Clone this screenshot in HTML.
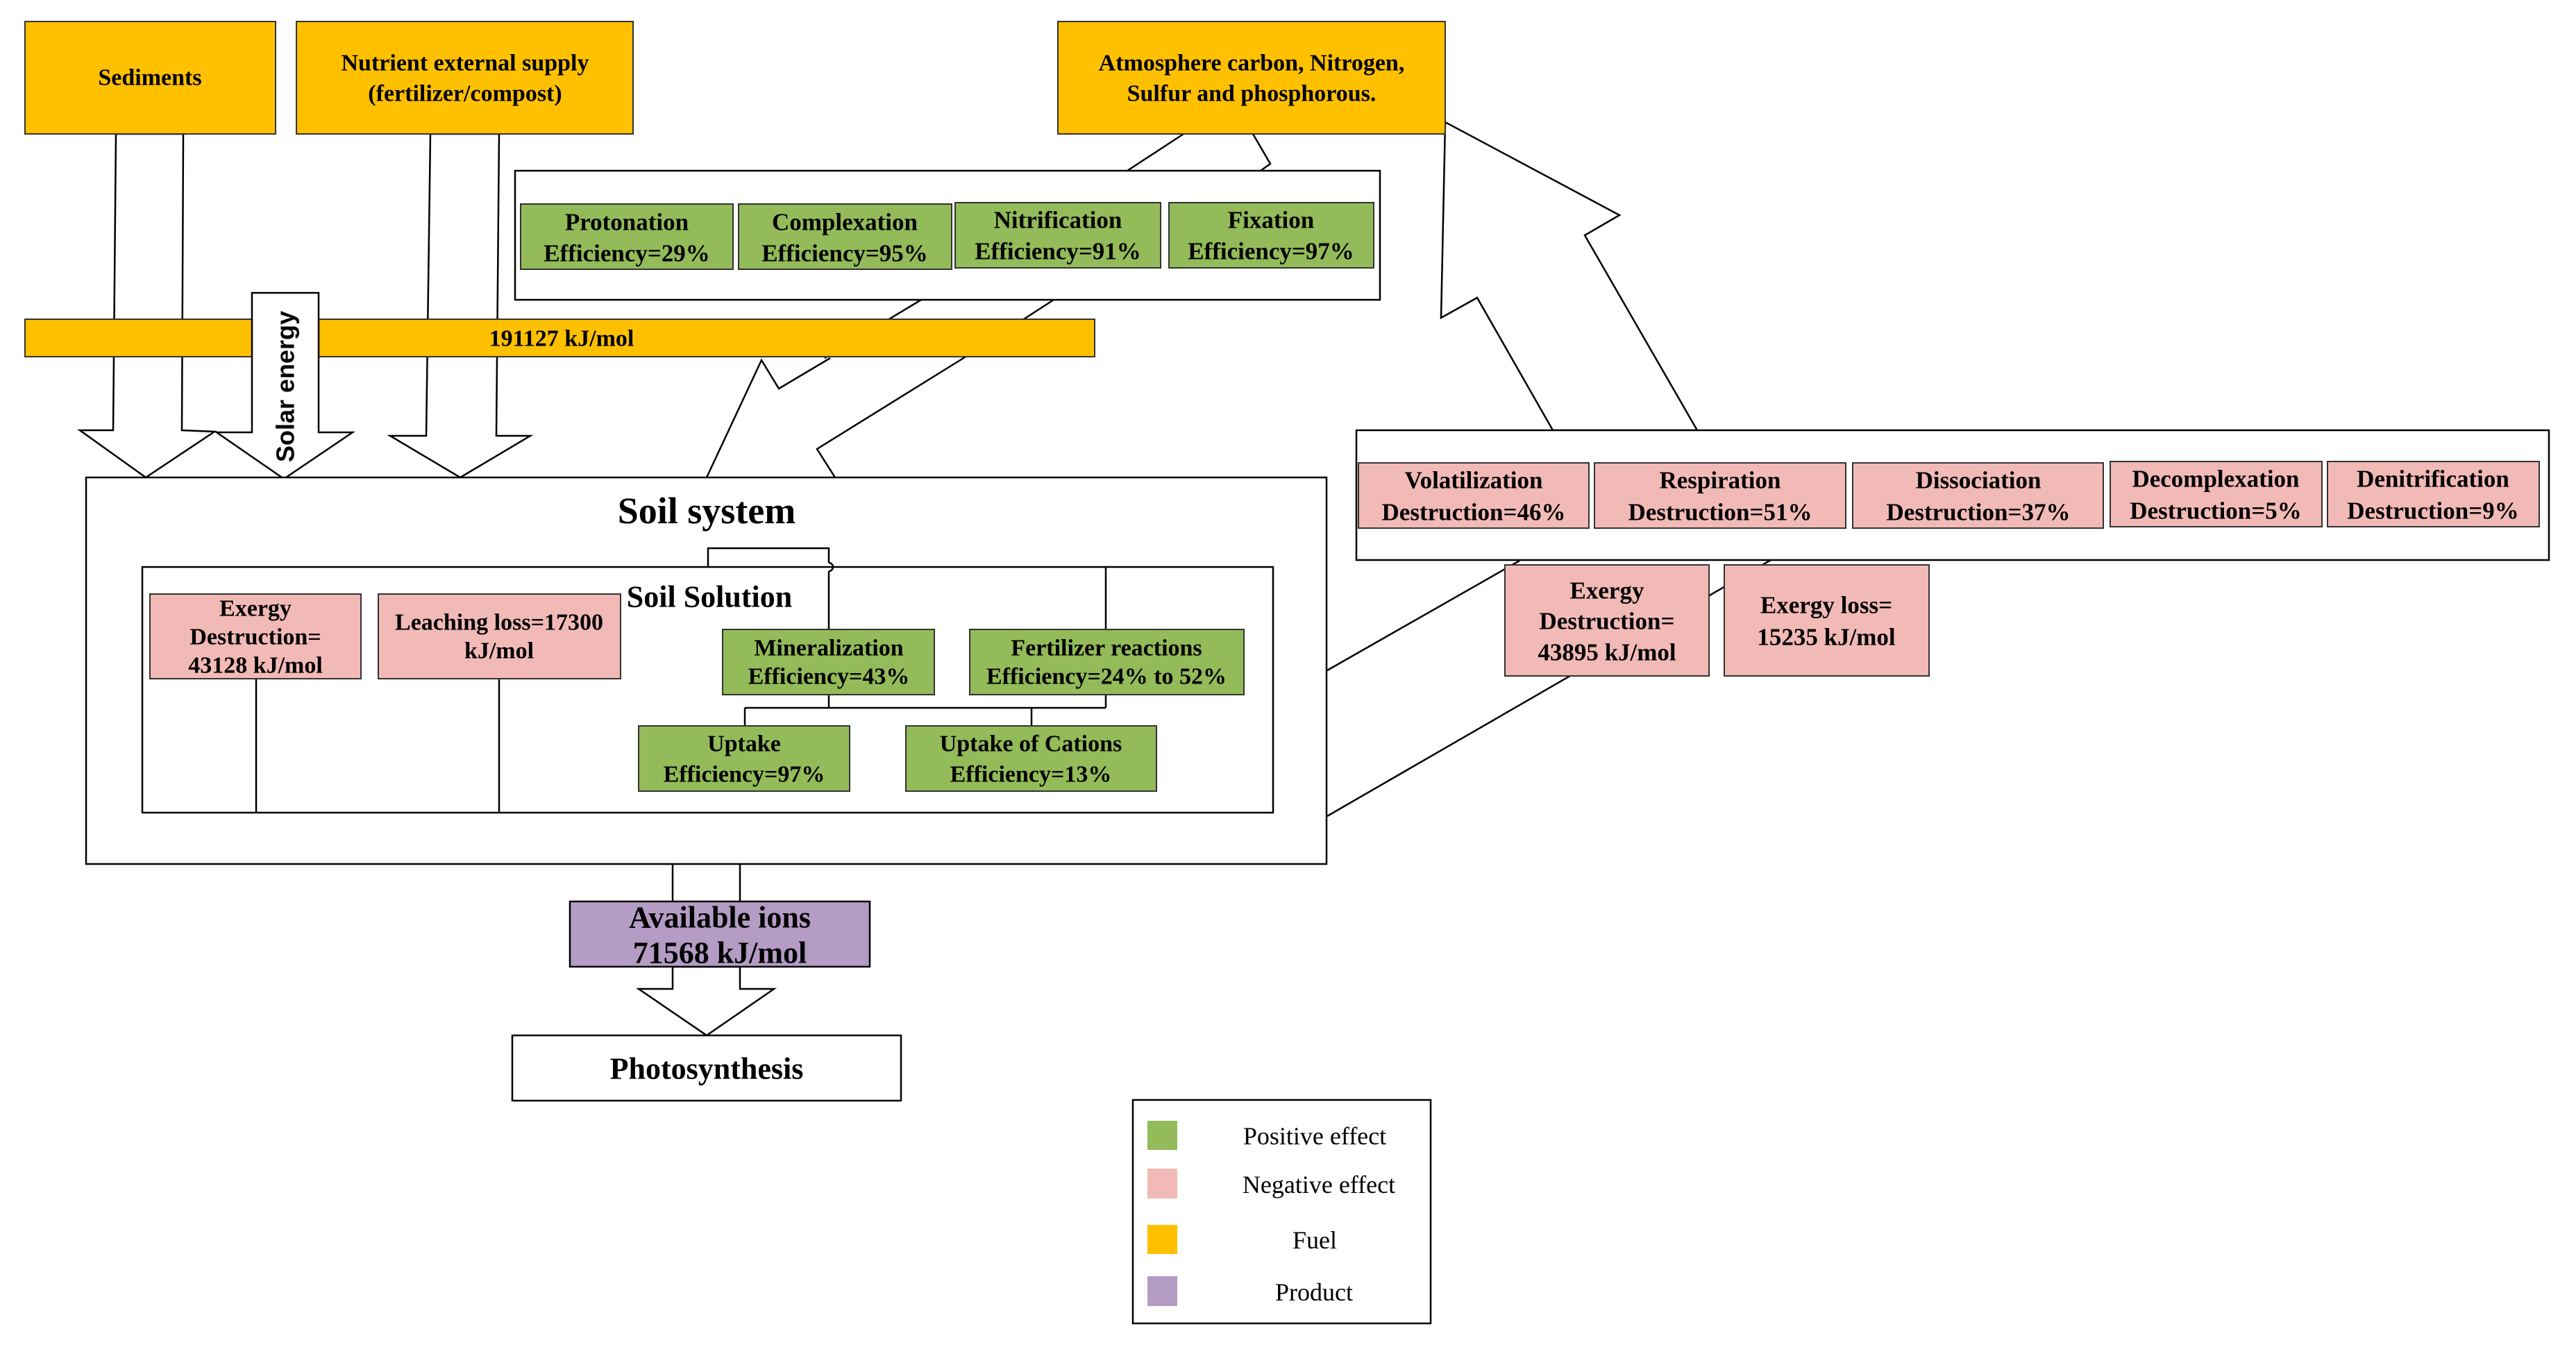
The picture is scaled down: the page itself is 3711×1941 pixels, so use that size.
<!DOCTYPE html>
<html><head><meta charset="utf-8"><style>
html,body{margin:0;padding:0;background:#fff;}
svg{display:block;}
text{font-family:"Liberation Serif",serif;font-weight:bold;fill:#000;text-anchor:middle;dominant-baseline:central;}
</style></head><body>
<svg width="3711" height="1941" viewBox="0 0 3711 1941" xmlns="http://www.w3.org/2000/svg">
<g stroke="#000" stroke-width="2.5" fill="none">
<polygon points="2237,620 2128,429 2076,458 2082,176 2333,310 2283,339 2445,620" fill="#fff"/>
<line x1="1912" y1="966" x2="2189" y2="808"/>
<line x1="1912" y1="1176" x2="2551" y2="807"/>
<polyline points="1705,193 1624,246"/>
<polyline points="1805,193 1830,236 1816,246"/>
<polyline points="1327,432 1188,516"/>
<polyline points="1196,516 1122,560 1097,519 1018,688"/>
<polyline points="1518,432 1388,516"/>
<polyline points="1388,516 1177,647 1203,688"/>
<polygon points="167,193 264,193 262,620 309,622 210,688 115,620 163,620" fill="#fff"/>
<polygon points="620,193 719,193 715,628 764,628 663,688 562,628 614,628" fill="#fff"/>
</g>
<rect x="36" y="460" width="1541" height="54" fill="#FFC000" stroke="#333" stroke-width="2"/>
<text x="809" y="488" font-size="34">191127 kJ/mol</text>
<polygon points="363,422 459,422 459,623 508,623 409,690 312,623 363,623" fill="#fff" stroke="#000" stroke-width="2.5"/>
<text x="0" y="0" font-size="36" transform="translate(411,557) rotate(-90)" style="font-family:'Liberation Sans',sans-serif">Solar energy</text>

<rect x="36" y="31" width="361" height="162" fill="#FFC000" stroke="#333" stroke-width="2"/>
<text x="216" y="112" font-size="34">Sediments</text>
<rect x="427" y="31" width="485" height="162" fill="#FFC000" stroke="#333" stroke-width="2"/>
<text x="670" y="91" font-size="34">Nutrient external supply</text>
<text x="670" y="135" font-size="34">(fertilizer/compost)</text>
<rect x="1524" y="31" width="558" height="162" fill="#FFC000" stroke="#333" stroke-width="2"/>
<text x="1803" y="91" font-size="34">Atmosphere carbon, Nitrogen,</text>
<text x="1803" y="135" font-size="34">Sulfur and phosphorous.</text>

<rect x="742" y="246" width="1246" height="186" fill="#fff" stroke="#000" stroke-width="2.5"/>
<g fill="#93BB59" stroke="#333" stroke-width="2">
<rect x="750" y="294" width="306" height="94"/>
<rect x="1064" y="294" width="307" height="94"/>
<rect x="1376" y="292" width="296" height="94"/>
<rect x="1684" y="292" width="295" height="94"/>
</g>
<g font-size="35">
<text x="903" y="320">Protonation</text><text x="903" y="365">Efficiency=29%</text>
<text x="1217" y="320">Complexation</text><text x="1217" y="365">Efficiency=95%</text>
<text x="1524" y="317">Nitrification</text><text x="1524" y="362">Efficiency=91%</text>
<text x="1831" y="317">Fixation</text><text x="1831" y="362">Efficiency=97%</text>
</g>

<rect x="1954" y="620" width="1718" height="187" fill="#fff" stroke="#000" stroke-width="2.5"/>
<g fill="#F2BAB6" stroke="#333" stroke-width="2">
<rect x="1957" y="667" width="332" height="94"/>
<rect x="2297" y="667" width="362" height="94"/>
<rect x="2669" y="667" width="361" height="94"/>
<rect x="3040" y="665" width="305" height="94"/>
<rect x="3353" y="665" width="305" height="94"/>
<rect x="2168" y="814" width="294" height="160"/>
<rect x="2484" y="814" width="295" height="160"/>
</g>
<g font-size="35">
<text x="2123" y="692">Volatilization</text><text x="2123" y="738">Destruction=46%</text>
<text x="2478" y="692">Respiration</text><text x="2478" y="738">Destruction=51%</text>
<text x="2850" y="692">Dissociation</text><text x="2850" y="738">Destruction=37%</text>
<text x="3192" y="690">Decomplexation</text><text x="3192" y="736">Destruction=5%</text>
<text x="3505" y="690">Denitrification</text><text x="3505" y="736">Destruction=9%</text>
<text x="2315" y="851">Exergy</text><text x="2315" y="895">Destruction=</text><text x="2315" y="940">43895 kJ/mol</text>
<text x="2631" y="872">Exergy loss=</text><text x="2631" y="918">15235 kJ/mol</text>
</g>

<rect x="124" y="688" width="1787" height="557" fill="#fff" stroke="#000" stroke-width="2.5"/>
<text x="1018" y="736" font-size="54">Soil system</text>
<rect x="205" y="817" width="1629" height="354" fill="none" stroke="#000" stroke-width="2.5"/>
<text x="1022" y="860" font-size="44">Soil Solution</text>
<g stroke="#000" stroke-width="2.5" fill="none">
<polyline points="1020,817 1020,790 1194,790 1194,811"/>
<path d="M1194,811 a6,6 0 0 1 0,12"/>
<line x1="1194" y1="823" x2="1194" y2="907"/>
<line x1="1593" y1="817" x2="1593" y2="907"/>
<line x1="1194" y1="1001" x2="1194" y2="1020"/>
<line x1="1073" y1="1020" x2="1593" y2="1020"/>
<line x1="1593" y1="1001" x2="1593" y2="1020"/>
<line x1="1073" y1="1020" x2="1073" y2="1046"/>
<line x1="1486" y1="1020" x2="1486" y2="1046"/>
<line x1="369" y1="978" x2="369" y2="1171"/>
<line x1="719" y1="978" x2="719" y2="1171"/>
</g>
<g fill="#F2BAB6" stroke="#333" stroke-width="2">
<rect x="216" y="856" width="304" height="122"/>
<rect x="545" y="856" width="349" height="122"/>
</g>
<g fill="#93BB59" stroke="#333" stroke-width="2">
<rect x="1041" y="907" width="305" height="94"/>
<rect x="1397" y="907" width="395" height="94"/>
<rect x="920" y="1046" width="304" height="94"/>
<rect x="1305" y="1046" width="361" height="94"/>
</g>
<g font-size="34">
<text x="368" y="877">Exergy</text><text x="368" y="918">Destruction=</text><text x="368" y="959">43128 kJ/mol</text>
<text x="719" y="897">Leaching loss=17300</text><text x="719" y="938">kJ/mol</text>
<text x="1194" y="934">Mineralization</text><text x="1194" y="975">Efficiency=43%</text>
<text x="1594" y="934">Fertilizer reactions</text><text x="1594" y="975">Efficiency=24% to 52%</text>
<text x="1072" y="1072">Uptake</text><text x="1072" y="1116">Efficiency=97%</text>
<text x="1485" y="1072">Uptake of Cations</text><text x="1485" y="1116">Efficiency=13%</text>
</g>

<g stroke="#000" stroke-width="2.5" fill="none">
<line x1="969" y1="1246" x2="969" y2="1299"/>
<line x1="1066" y1="1246" x2="1066" y2="1299"/>
<polygon points="969,1393 1066,1393 1066,1425 1115,1425 1018,1492 920,1425 969,1425" fill="#fff"/>
</g>
<rect x="821" y="1299" width="432" height="94" fill="#B49CC4" stroke="#000" stroke-width="2.5"/>
<text x="1037" y="1322" font-size="44">Available ions</text>
<text x="1037" y="1373" font-size="44">71568 kJ/mol</text>
<rect x="738" y="1492" width="560" height="94" fill="#fff" stroke="#000" stroke-width="2.5"/>
<text x="1018" y="1540" font-size="44">Photosynthesis</text>

<rect x="1632" y="1585" width="429" height="322" fill="#fff" stroke="#000" stroke-width="2.5"/>
<rect x="1653" y="1615" width="43" height="42" fill="#93BB59"/>
<rect x="1653" y="1684" width="43" height="43" fill="#F2BAB6"/>
<rect x="1653" y="1765" width="43" height="42" fill="#FFC000"/>
<rect x="1653" y="1839" width="43" height="43" fill="#B49CC4"/>
<g font-size="36">
<text x="1894" y="1637" style="font-weight:normal">Positive effect</text>
<text x="1900" y="1707" style="font-weight:normal">Negative effect</text>
<text x="1894" y="1787" style="font-weight:normal">Fuel</text>
<text x="1893" y="1862" style="font-weight:normal">Product</text>
</g>
</svg>
</body></html>
